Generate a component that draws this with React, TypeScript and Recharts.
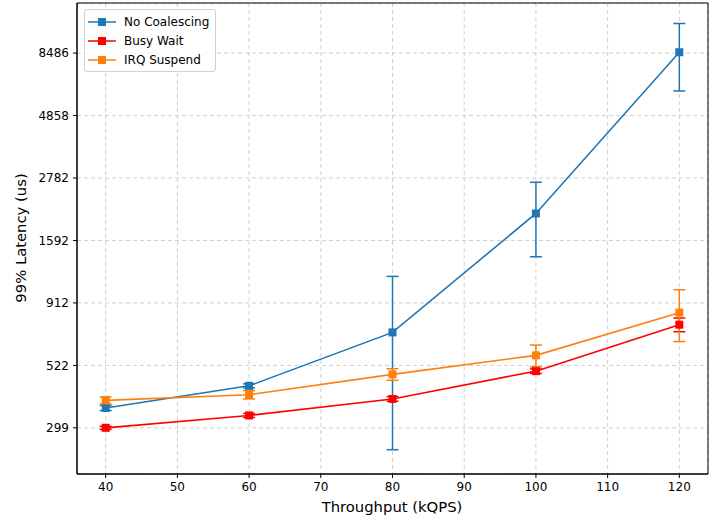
import React from 'react';
import {
  LineChart,
  Line,
  XAxis,
  YAxis,
  CartesianGrid,
  ErrorBar,
  Legend,
  ReferenceArea,
} from 'recharts';

// Throughput levels (kQPS)
const throughput = [40, 60, 80, 100, 120];

// 99th percentile latency (us) and its spread per configuration
const noCoalescing = [357, 435, 701, 2027, 8550];
const noCoalescingErr = [8, 8, 455, 650, 2500];
const busyWait = [299, 334, 387, 496, 751];
const busyWaitErr = [4, 6, 8, 10, 46];
const irqSuspend = [382, 402, 482, 571, 836];
const irqSuspendErr = [12, 15, 25, 55, 190];

// Axis ticks
const xTicks = [40, 50, 60, 70, 80, 90, 100, 110, 120];
const yTicks = [299, 522, 912, 1592, 2782, 4858, 8486];

const seriesNames = ['No Coalescing', 'Busy Wait', 'IRQ Suspend'];
const seriesColors = ['#1f77b4', '#ff0000', '#ff7f0e'];

const data = throughput.map((t, i) => ({
  t,
  nc: noCoalescing[i],
  ncErr: noCoalescingErr[i],
  bw: busyWait[i],
  bwErr: busyWaitErr[i],
  irq: irqSuspend[i],
  irqErr: irqSuspendErr[i],
}));

const FONT = 'DejaVu Sans, sans-serif';

const SquareDot = (color: string) => (props: any) => {
  const { cx, cy, index } = props;
  if (cx == null || cy == null) return <g key={index} />;
  return <rect key={index} x={cx - 4} y={cy - 4} width={8} height={8} fill={color} />;
};

// Legend entries kept in plotting order
const LegendBox = (props: any) => {
  const payload = [...((props.payload || []) as any[])].sort(
    (a, b) => seriesNames.indexOf(a.value) - seriesNames.indexOf(b.value)
  );
  return (
    <div
      style={{
        background: 'rgba(255,255,255,0.8)',
        border: '1px solid #d0d0d0',
        borderRadius: 3,
        padding: '2px 6px 2px 3px',
        fontFamily: FONT,
        fontSize: 12,
        color: '#000',
      }}
    >
      {payload.map((p: any) => (
        <div key={p.value} style={{ display: 'flex', alignItems: 'center', height: 19 }}>
          <svg width={28} height={12} style={{ marginRight: 8 }}>
            <line x1={0} y1={6} x2={28} y2={6} stroke={p.color} strokeWidth={1.5} />
            <rect x={10} y={2} width={8} height={8} fill={p.color} />
          </svg>
          <span>{p.value}</span>
        </div>
      ))}
    </div>
  );
};

export default function App() {
  return (
    <div style={{ position: 'absolute', left: 0, top: 0, background: '#fff' }}>
      <LineChart
        width={721}
        height={523}
        data={data}
        margin={{ top: 3, right: 13, bottom: 0, left: 0 }}
      >
        <CartesianGrid stroke="#c4c4c4" strokeDasharray="4 3" strokeWidth={0.8} />
        <XAxis
          dataKey="t"
          type="number"
          domain={[36, 124]}
          ticks={xTicks}
          allowDataOverflow
          height={49}
          tickSize={4}
          tickMargin={4}
          axisLine={{ stroke: '#000' }}
          tickLine={{ stroke: '#000' }}
          tick={{ fill: '#000', fontSize: 12, fontFamily: FONT }}
          label={{
            content: () => (
              <text
                x={392}
                y={512}
                textAnchor="middle"
                fontSize={14.8}
                fontFamily={FONT}
                fill="#000"
              >
                Throughput (kQPS)
              </text>
            ),
          }}
        />
        <YAxis
          type="number"
          scale="log"
          domain={[198, 13270]}
          ticks={yTicks}
          allowDataOverflow
          width={77}
          tickSize={4}
          tickMargin={4}
          axisLine={{ stroke: '#000' }}
          tickLine={{ stroke: '#000' }}
          tick={{ fill: '#000', fontSize: 12, fontFamily: FONT }}
          label={{
            content: () => (
              <text
                x={26}
                y={238}
                transform="rotate(-90 26 238)"
                textAnchor="middle"
                fontSize={14.8}
                fontFamily={FONT}
                fill="#000"
              >
                99% Latency (us)
              </text>
            ),
          }}
        />
        <ReferenceArea
          x1={36}
          x2={124}
          y1={198}
          y2={13270}
          fill="none"
          stroke="#000"
          strokeWidth={1}
          ifOverflow="visible"
        />
        <Line
          dataKey="nc"
          name={seriesNames[0]}
          stroke={seriesColors[0]}
          strokeWidth={1.6}
          dot={SquareDot(seriesColors[0])}
          activeDot={false}
          isAnimationActive={false}
        >
          <ErrorBar dataKey="ncErr" direction="y" width={6} stroke={seriesColors[0]} strokeWidth={1.5} isAnimationActive={false} />
        </Line>
        <Line
          dataKey="bw"
          name={seriesNames[1]}
          stroke={seriesColors[1]}
          strokeWidth={1.6}
          dot={SquareDot(seriesColors[1])}
          activeDot={false}
          isAnimationActive={false}
        >
          <ErrorBar dataKey="bwErr" direction="y" width={6} stroke={seriesColors[1]} strokeWidth={1.5} isAnimationActive={false} />
        </Line>
        <Line
          dataKey="irq"
          name={seriesNames[2]}
          stroke={seriesColors[2]}
          strokeWidth={1.6}
          dot={SquareDot(seriesColors[2])}
          activeDot={false}
          isAnimationActive={false}
        >
          <ErrorBar dataKey="irqErr" direction="y" width={6} stroke={seriesColors[2]} strokeWidth={1.5} isAnimationActive={false} />
        </Line>
        <Legend
          layout="vertical"
          align="center"
          verticalAlign="middle"
          wrapperStyle={{ top: 9, left: 84, width: 'auto' }}
          content={LegendBox}
        />
      </LineChart>
    </div>
  );
}
